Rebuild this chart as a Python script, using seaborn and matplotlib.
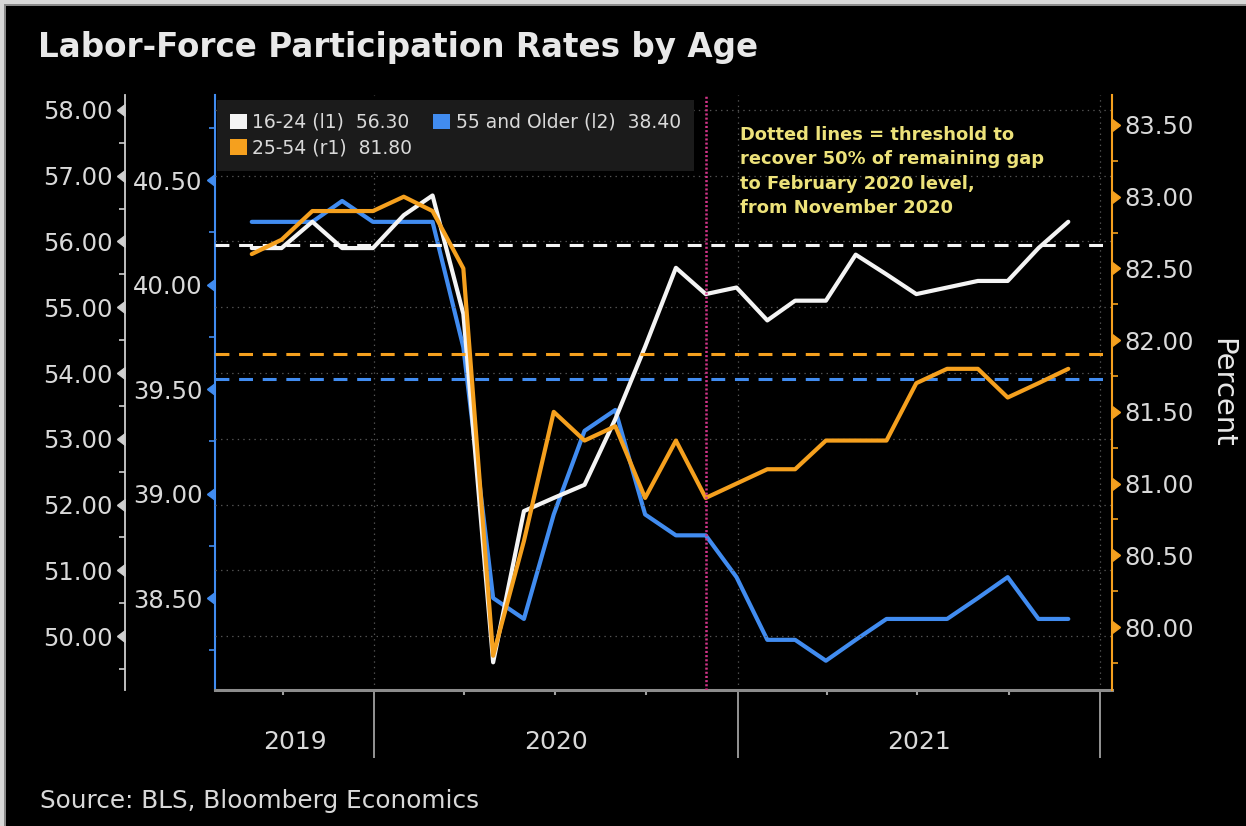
import pandas as pd
import matplotlib
matplotlib.use("Agg")
import matplotlib.pyplot as plt
import matplotlib.dates as mdates
import matplotlib.ticker as mticker
import matplotlib.transforms as mtransforms
from matplotlib import markers
from matplotlib.patches import Patch, Rectangle
import seaborn as sns

# ---- data: monthly labor-force participation rates (percent) ----
months = pd.date_range("2019-08-31", "2021-11-30", freq="ME")
age_16_24 = [55.9, 55.9, 56.3, 55.9, 55.9, 56.4, 56.7, 54.9, 49.6, 51.9,
             52.1, 52.3, 53.3, 54.4, 55.6, 55.2, 55.3, 54.8, 55.1, 55.1,
             55.8, 55.5, 55.2, 55.3, 55.4, 55.4, 55.9, 56.3]
age_25_54 = [82.6, 82.7, 82.9, 82.9, 82.9, 83.0, 82.9, 82.5, 79.8, 80.6,
             81.5, 81.3, 81.4, 80.9, 81.3, 80.9, 81.0, 81.1, 81.1, 81.3,
             81.3, 81.3, 81.7, 81.8, 81.8, 81.6, 81.7, 81.8]
age_55_plus = [40.3, 40.3, 40.3, 40.4, 40.3, 40.3, 40.3, 39.7, 38.5, 38.4,
               38.9, 39.3, 39.4, 38.9, 38.8, 38.8, 38.6, 38.3, 38.3, 38.2,
               38.3, 38.4, 38.4, 38.4, 38.5, 38.6, 38.4, 38.4]

# 50%-of-gap recovery thresholds (Nov 2020 level -> Feb 2020 level)
threshold_16_24 = 55.95
threshold_25_54 = 81.90
threshold_55_plus = 39.55
reference_month = pd.Timestamp("2020-11-30")

series_names = ["16-24 (l1)", "25-54 (r1)", "55 and Older (l2)"]
year_labels = ["2019", "2020", "2021"]

# ---- styling ----
sns.set_style("dark")
plt.rcParams["font.family"] = ["DejaVu Sans"]
plt.rcParams["lines.scale_dashes"] = False

BG = "black"
WHITE = "#f4f4f4"
ORANGE = "#f5a01e"
BLUE = "#418cf0"
TXT = "#d9d9d9"
AXIS_GRAY = "#8c8c8c"
NOTE = "#ede27a"
MAGENTA = "#d4358a"

fig = plt.figure(figsize=(12.46, 8.26), dpi=100, facecolor=BG)
W, H = 1246, 826
left_px, right_px, top_px, bottom_px = 215, 1112, 95, 690
ax = fig.add_axes([left_px / W, 1 - bottom_px / H,
                   (right_px - left_px) / W, (bottom_px - top_px) / H])
ax.set_facecolor(BG)
ax_l1 = ax.twinx()
ax_r1 = ax.twinx()
for a in (ax_l1, ax_r1):
    a.patch.set_visible(False)

# thin light frame along the top and left edges of the panel
fig.patches.append(Rectangle((0, 1 - 4 / H), 1, 4 / H, transform=fig.transFigure,
                             facecolor="#d8d8d8", edgecolor="none"))
fig.patches.append(Rectangle((0, 0), 4 / W, 1, transform=fig.transFigure,
                             facecolor="#d8d8d8", edgecolor="none"))
fig.patches.append(Rectangle((4 / W, 1 - 6 / H), 1, 2 / H, transform=fig.transFigure,
                             facecolor="#8a8a8a", edgecolor="none"))
fig.patches.append(Rectangle((4 / W, 0), 2 / W, 1 - 4 / H, transform=fig.transFigure,
                             facecolor="#8a8a8a", edgecolor="none"))

# ---- lines ----
frame = pd.DataFrame({"month": months, "y1624": age_16_24,
                      "y2554": age_25_54, "y55": age_55_plus})
sns.lineplot(data=frame, x="month", y="y55", ax=ax, color=BLUE, lw=3.0)
sns.lineplot(data=frame, x="month", y="y1624", ax=ax_l1, color=WHITE, lw=3.0)
sns.lineplot(data=frame, x="month", y="y2554", ax=ax_r1, color=ORANGE, lw=3.0)

dash = (0, (10, 7))
ax.axhline(threshold_55_plus, color=BLUE, lw=2.2, ls=dash, zorder=1)
ax_l1.axhline(threshold_16_24, color=WHITE, lw=2.2, ls=dash, zorder=1)
ax_r1.axhline(threshold_25_54, color=ORANGE, lw=2.2, ls=dash, zorder=1)
ax_r1.axvline(reference_month, color=MAGENTA, lw=1.8, ls=(0, (1.5, 1.5)))

# ---- x axis ----
x0, x1 = pd.Timestamp("2019-07-25"), pd.Timestamp("2022-01-13")
ax.set_xlim(x0, x1)
ax.xaxis.set_major_locator(mdates.YearLocator())
ax.xaxis.set_minor_locator(mdates.MonthLocator(bymonth=[4, 7, 10]))
ax.xaxis.set_major_formatter(mticker.NullFormatter())
ax.xaxis.set_minor_formatter(mticker.NullFormatter())
ax.tick_params(axis="x", which="both", bottom=True, top=False)
ax.tick_params(axis="x", which="major", length=49, width=1.3, color="#a0a0a0")
ax.tick_params(axis="x", which="minor", length=3.5, width=1.5, color="#a0a0a0")
ax.grid(axis="x", which="major", color="#555555", lw=0.9, ls=(0, (1, 3)))
ax.grid(axis="y", visible=False)
ax.set_xlabel("")

blend = mtransforms.blended_transform_factory(ax.transData, ax.transAxes)
year_starts = [x0, pd.Timestamp("2020-01-01"), pd.Timestamp("2021-01-01"),
               pd.Timestamp("2022-01-01")]
for i, lab in enumerate(year_labels):
    mid = year_starts[i] + (year_starts[i + 1] - year_starts[i]) / 2
    ax.text(mid, -0.088, lab, transform=blend, ha="center", va="center",
            color=TXT, fontsize=18)

# ---- y axes ----
ax.set_ylim(38.06, 40.907)
ax_l1.set_ylim(49.179, 58.228)
ax_r1.set_ylim(79.561, 83.709)

ax.yaxis.set_major_locator(mticker.MultipleLocator(0.5))
ax.yaxis.set_minor_locator(mticker.MultipleLocator(0.25))
ax_l1.yaxis.set_major_locator(mticker.MultipleLocator(1.0))
ax_l1.yaxis.set_minor_locator(mticker.MultipleLocator(0.5))
ax_r1.yaxis.set_major_locator(mticker.MultipleLocator(0.5))
ax_r1.yaxis.set_minor_locator(mticker.MultipleLocator(0.25))
for a in (ax, ax_l1, ax_r1):
    a.yaxis.set_major_formatter(mticker.FormatStrFormatter("%.2f"))
    a.yaxis.set_minor_formatter(mticker.NullFormatter())
    a.set_ylabel("")

ax_l1.yaxis.tick_left()
ax_l1.spines["left"].set_position(("outward", 64.8))

for name, sp in ax.spines.items():
    sp.set_visible(name in ("left", "bottom"))
for name, sp in ax_l1.spines.items():
    sp.set_visible(name == "left")
for name, sp in ax_r1.spines.items():
    sp.set_visible(name == "right")
ax.spines["left"].set_color(BLUE)
ax.spines["left"].set_linewidth(1.5)
ax.spines["bottom"].set_color(AXIS_GRAY)
ax.spines["bottom"].set_linewidth(2.2)
ax_l1.spines["left"].set_color("#cfcfcf")
ax_l1.spines["left"].set_linewidth(1.3)
ax_r1.spines["right"].set_color(ORANGE)
ax_r1.spines["right"].set_linewidth(1.5)

ax.tick_params(axis="y", which="both", left=True, right=False)
ax_l1.tick_params(axis="y", which="both", left=True, right=False)
ax_r1.tick_params(axis="y", which="both", left=False, right=True)
ax.tick_params(axis="y", which="major", length=6, width=1, color=BLUE,
               labelcolor=TXT, labelsize=17.5, pad=3)
ax.tick_params(axis="y", which="minor", length=4, width=1.2, color=BLUE)
ax_l1.tick_params(axis="y", which="major", length=6, width=1, color="#cfcfcf",
                  labelcolor=TXT, labelsize=17.5, pad=3)
ax_l1.tick_params(axis="y", which="minor", length=4, width=1.2, color="#cfcfcf")
ax_r1.tick_params(axis="y", which="major", length=6, width=1, color=ORANGE,
                  labelcolor=TXT, labelsize=17.5, pad=3)
ax_r1.tick_params(axis="y", which="minor", length=4, width=1.2, color=ORANGE)

# horizontal dotted grid on the 16-24 scale
ax_l1.grid(axis="y", which="major", color="#555555", lw=0.9, ls=(0, (1, 3)))
ax_l1.grid(axis="x", visible=False)
ax_r1.grid(False)
ax_l1.set_axisbelow(True)

# caret-shaped major ticks
for a in (ax, ax_l1):
    for t in a.yaxis.get_major_ticks():
        t.tick1line.set_marker(markers.CARETLEFTBASE)
        t.tick1line.set_markersize(8)
for t in ax_r1.yaxis.get_major_ticks():
    t.tick2line.set_marker(markers.CARETRIGHTBASE)
    t.tick2line.set_markersize(8)

# ---- legend ----
handles = [Patch(facecolor=WHITE, edgecolor="none"),
           Patch(facecolor=ORANGE, edgecolor="none"),
           Patch(facecolor=BLUE, edgecolor="none")]
labels = [f"{series_names[0]}  {age_16_24[-1]:.2f}",
          f"{series_names[1]}  {age_25_54[-1]:.2f}",
          f"{series_names[2]}  {age_55_plus[-1]:.2f}"]
leg = ax_r1.legend(handles, labels, ncol=2, loc="upper left",
                   bbox_to_anchor=(0.002, 0.992), borderaxespad=0,
                   frameon=True, facecolor="#1b1b1b", edgecolor="none",
                   framealpha=1, fontsize=13.5, labelcolor=TXT,
                   handlelength=0.9, handleheight=0.9, handletextpad=0.3,
                   columnspacing=1.1, borderpad=0.7, labelspacing=0.35,
                   fancybox=False)

# ---- note ----
ax_r1.text(0.585, 0.948,
           "Dotted lines = threshold to\nrecover 50% of remaining gap\n"
           "to February 2020 level,\nfrom November 2020",
           transform=ax_r1.transAxes, ha="left", va="top", color=NOTE,
           fontsize=12.9, fontweight="bold", linespacing=1.45)

# ---- titles ----
fig.text(38 / W, 1 - 57 / H, "Labor-Force Participation Rates by Age",
         ha="left", va="baseline", color="#e8e8e8", fontsize=23.5,
         fontweight="bold")
fig.text(40 / W, 1 - 808 / H, "Source: BLS, Bloomberg Economics",
         ha="left", va="baseline", color=TXT, fontsize=17.8)
fig.text(1222 / W, 1 - 393 / H, "Percent", rotation=270, ha="center",
         va="center", color="#e8e8e8", fontsize=21)

fig.savefig("out.png", dpi=100, facecolor=BG)
